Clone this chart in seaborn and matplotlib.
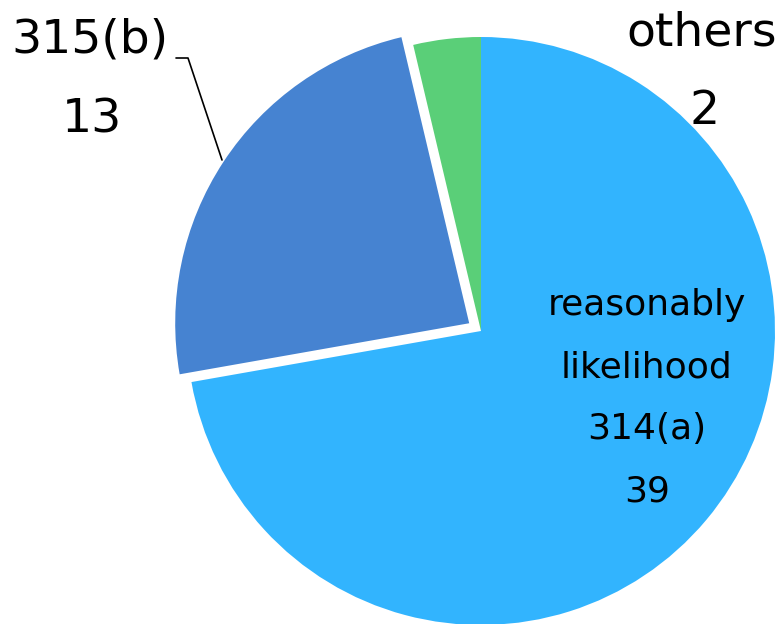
import matplotlib
matplotlib.use("Agg")
import matplotlib.pyplot as plt
import seaborn as sns

# slice data (clockwise from the top)
categories = ["reasonably\nlikelihood\n314(a)", "315(b)", "others"]
counts = [39, 13, 2]
colors = ["#32B4FE", "#4683D1", "#5ACF78"]
explode = [0, 0.048, 0]

sns.set_theme(style="white")
plt.rcParams['font.family'] = ['DejaVu Sans']

W, H = 782, 624
cx, cy, R = 481, 331, 294

fig = plt.figure(figsize=(W / 100, H / 100), dpi=100)
ax = fig.add_axes([0, 0, 1, 1])

wedges, _ = ax.pie(counts, colors=colors, startangle=90, counterclock=False,
                   explode=explode, radius=1,
                   wedgeprops=dict(linewidth=0))

ax.set_xlim(-cx / R, (W - cx) / R)
ax.set_ylim(-(H - cy) / R, cy / R)
ax.set_aspect('auto')
ax.axis('off')


def px(x, y):
    # pixel position in the picture -> data coords
    return (x - cx) / R, (cy - y) / R


# inner label for the big slice
for i, line in enumerate(categories[0].split("\n") + [str(counts[0])]):
    x, y = px(647, 305 + i * 62)
    ax.text(x, y, line, ha='center', va='center', fontsize=26, color='black')

# 315(b) label with leader line
x, y = px(90, 40)
ax.text(x, y, categories[1], ha='center', va='center', fontsize=34, color='black')
x, y = px(92, 120)
ax.text(x, y, str(counts[1]), ha='center', va='center', fontsize=34, color='black')
lx, ly = zip(px(176, 58), px(188, 58), px(222, 160))
ax.plot(lx, ly, color='black', linewidth=1.2)

# others label
x, y = px(702, 33)
ax.text(x, y, categories[2], ha='center', va='center', fontsize=34, color='black')
x, y = px(705, 112)
ax.text(x, y, str(counts[2]), ha='center', va='center', fontsize=34, color='black')

fig.savefig("out.png", dpi=100)
